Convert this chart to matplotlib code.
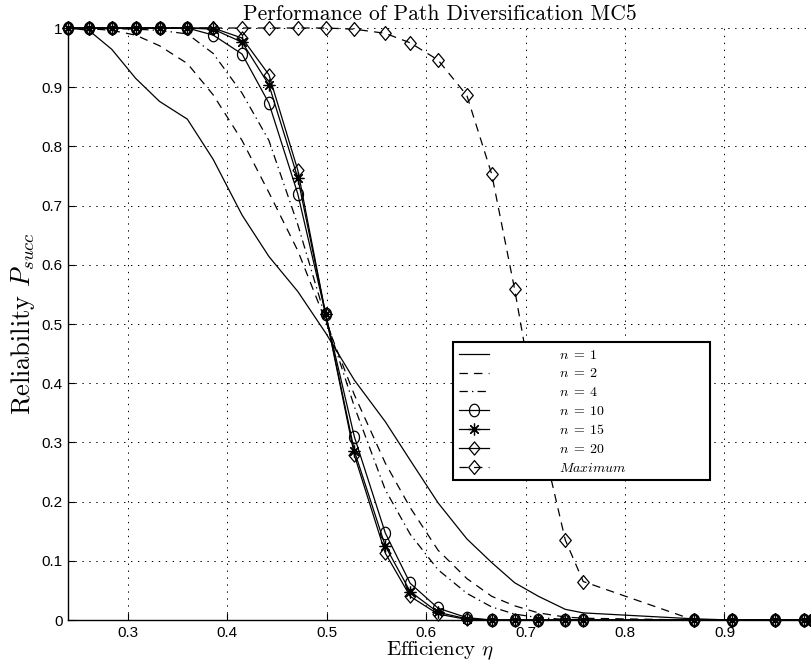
import numpy as np
import matplotlib
matplotlib.use('Agg')
import matplotlib.pyplot as plt
from matplotlib.path import Path

plt.rcParams['mathtext.fontset'] = 'cm'
plt.rcParams['lines.scale_dashes'] = False

# efficiency values (x)
eta = [0.24, 0.261, 0.284, 0.308, 0.332, 0.36, 0.386, 0.415, 0.442, 0.471,
       0.499, 0.528, 0.559, 0.584, 0.612, 0.641, 0.666, 0.689, 0.713, 0.74,
       0.758, 0.869, 0.908, 0.951, 0.98, 0.988]

# reliability for each number of paths
p_n1 = [1.0, 0.996, 0.964, 0.915, 0.876, 0.846, 0.778, 0.684, 0.614, 0.555,
        0.485, 0.405, 0.335, 0.27, 0.198, 0.137, 0.097, 0.063, 0.04, 0.018,
        0.012, 0.002, 0.0, 0.0, 0.0, 0.0]
p_n2 = [1.0, 0.999, 0.996, 0.988, 0.97, 0.94, 0.887, 0.81, 0.722, 0.624,
        0.505, 0.38, 0.265, 0.19, 0.118, 0.07, 0.04, 0.024, 0.012, 0.005,
        0.003, 0.0, 0.0, 0.0, 0.0, 0.0]
p_n4 = [1.0, 1.0, 0.999, 0.998, 0.996, 0.99, 0.957, 0.89, 0.81, 0.668,
        0.51, 0.36, 0.22, 0.145, 0.085, 0.045, 0.022, 0.01, 0.004, 0.001,
        0.0, 0.0, 0.0, 0.0, 0.0, 0.0]
p_n10 = [1.0, 1.0, 1.0, 1.0, 1.0, 1.0, 0.988, 0.956, 0.873, 0.72,
         0.517, 0.309, 0.147, 0.062, 0.02, 0.004, 0.0, 0.0, 0.0, 0.0,
         0.0, 0.0, 0.0, 0.0, 0.0, 0.0]
p_n15 = [1.0, 1.0, 1.0, 1.0, 1.0, 1.0, 0.998, 0.976, 0.904, 0.747,
         0.517, 0.285, 0.125, 0.048, 0.013, 0.002, 0.0, 0.0, 0.0, 0.0,
         0.0, 0.0, 0.0, 0.0, 0.0, 0.0]
p_n20 = [1.0, 1.0, 1.0, 1.0, 1.0, 1.0, 1.0, 0.983, 0.921, 0.76,
         0.517, 0.278, 0.113, 0.04, 0.01, 0.001, 0.0, 0.0, 0.0, 0.0,
         0.0, 0.0, 0.0, 0.0, 0.0, 0.0]
p_max = [1.0, 1.0, 1.0, 1.0, 1.0, 1.0, 1.0, 1.0, 1.0, 1.0,
         1.0, 0.998, 0.991, 0.975, 0.946, 0.886, 0.753, 0.559, 0.33, 0.135,
         0.065, 0.0, 0.0, 0.0, 0.0, 0.0]

labels = [r'$n\;=\;1$', r'$n\;=\;2$', r'$n\;=\;4$', r'$n\;=\;10$',
          r'$n\;=\;15$', r'$n\;=\;20$', r'$Maximum$']

# slightly tall markers (the original figure is stretched vertically)
t = np.linspace(0, 2*np.pi, 61)
ell = Path(np.column_stack([np.cos(t), 1.25*np.sin(t)]))
dia = Path([(0, 1.2), (1, 0), (0, -1.2), (-1, 0), (0, 1.2)],
           [Path.MOVETO, Path.LINETO, Path.LINETO, Path.LINETO, Path.CLOSEPOLY])

fig = plt.figure(figsize=(8.11, 6.68), dpi=100)
ax = fig.add_axes([68/811, 48/668, 744/811, 592/668])

lw = 0.9
ax.plot(eta, p_n1, color='k', lw=lw, label=labels[0])
ax.plot(eta, p_n2, color='k', lw=lw, dashes=(6, 4.5), label=labels[1])
ax.plot(eta, p_n4, color='k', lw=lw, dashes=(6, 3, 1, 3), label=labels[2])
ax.plot(eta, p_n10, color='k', lw=lw, marker=ell, markersize=9,
        mfc='none', mec='k', mew=0.9, clip_on=False, label=labels[3])
ax.plot(eta, p_n15, color='k', lw=lw, marker=(8, 2, 0), markersize=8.5,
        mec='k', mew=0.9, clip_on=False, label=labels[4])
ax.plot(eta, p_n20, color='k', lw=lw, marker=dia, markersize=9.5,
        mfc='none', mec='k', mew=0.9, clip_on=False, label=labels[5])
ax.plot(eta, p_max, color='k', lw=lw, dashes=(6, 4.5), marker=dia,
        markersize=10, mfc='none', mec='k', mew=0.9, clip_on=False,
        label=labels[6])

ax.set_xlim(0.24, 0.988)
ax.set_ylim(0, 1)
ax.set_xticks([0.3, 0.4, 0.5, 0.6, 0.7, 0.8, 0.9])
ax.set_yticks(np.arange(0, 1.01, 0.1))
ax.set_yticklabels(['0', '0.1', '0.2', '0.3', '0.4', '0.5', '0.6', '0.7',
                    '0.8', '0.9', '1'])
ax.tick_params(direction='in', length=5, labelsize=11, pad=4)
for lab in ax.get_xticklabels() + ax.get_yticklabels():
    lab.set_fontfamily('Liberation Sans')
ax.spines['top'].set_visible(False)
ax.spines['right'].set_visible(False)
ax.spines['left'].set_linewidth(1.0)
ax.spines['bottom'].set_linewidth(1.0)
ax.grid(True, color='k', linestyle=(0, (1, 4)), linewidth=0.7)

ax.set_title('Performance of Path Diversification MC5', fontfamily='cmr10',
             fontsize=15.5, pad=6)
ax.set_xlabel(r'Efficiency $\eta$', fontfamily='cmr10', fontsize=15, labelpad=0)
ax.set_ylabel(r'Reliability $P_{succ}$', fontfamily='cmr10', fontsize=19,
              labelpad=3)

leg = ax.legend(loc='upper left', bbox_to_anchor=(453/811, 1-342/668, 257/811, 0),
                bbox_transform=fig.transFigure, mode='expand', borderaxespad=0,
                fontsize=10, handlelength=2.2, handletextpad=5.0,
                labelspacing=0.35, borderpad=0.4, fancybox=False,
                framealpha=1, edgecolor='k')
leg.get_frame().set_linewidth(1.5)

fig.savefig('out.png', dpi=100)
